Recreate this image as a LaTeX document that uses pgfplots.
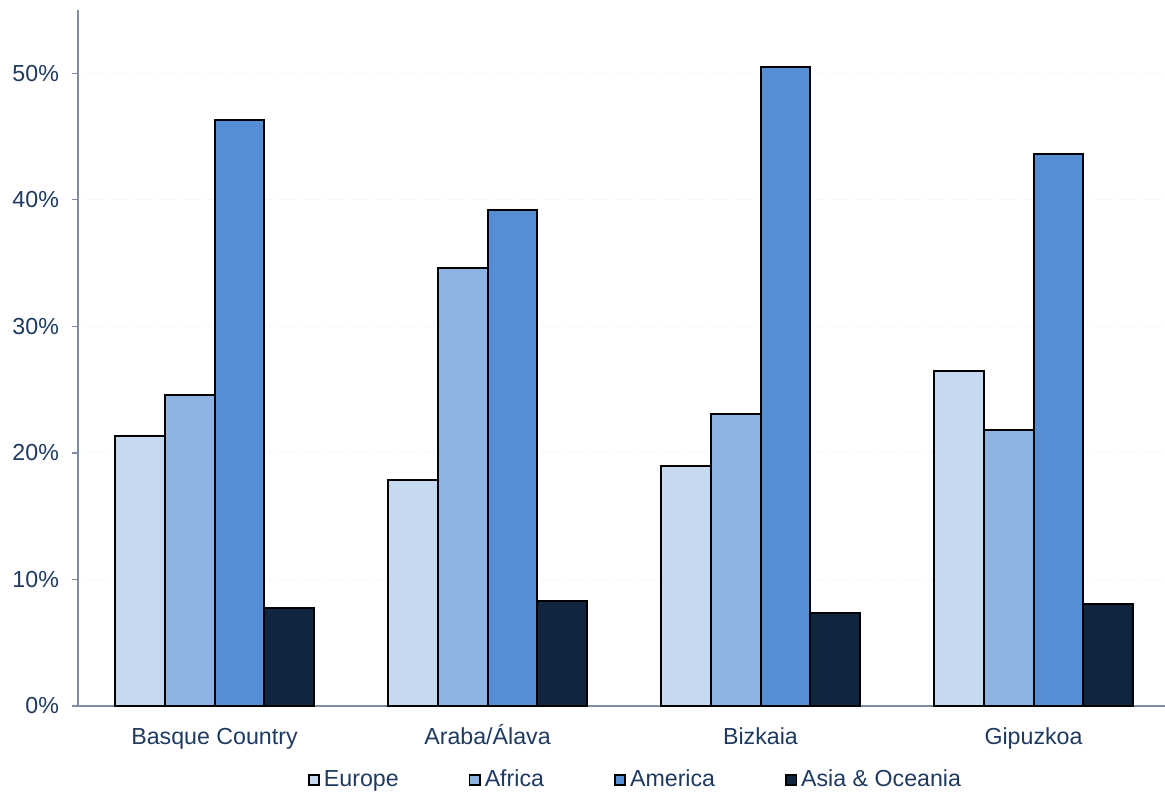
\documentclass[border=0pt]{standalone}
\usepackage{pgfplots}
\pgfplotsset{compat=1.18}
\usepackage{fontspec}
\setmainfont{Liberation Sans}

\definecolor{eur}{HTML}{C6D9F1}
\definecolor{afr}{HTML}{8EB4E3}
\definecolor{ame}{HTML}{558ED5}
\definecolor{asi}{HTML}{11253F}
\definecolor{txt}{HTML}{1F3A60}
\definecolor{axl}{HTML}{7D8CA3}
\definecolor{grd}{HTML}{E3E8EF}

\begin{document}
\begin{tikzpicture}[x=0.5pt,y=0.5pt]
% picture frame: 1165 x 792 px, axis origin at (78,706) px from top left
\useasboundingbox (-78,-86) rectangle (1087,706);
\begin{axis}[
    scale only axis,
    width=543.5pt, height=348pt,
    at={(0,0)}, anchor=south west,
    xmin=-0.5, xmax=3.4817,
    ymin=0, ymax=55,
    ybar=0pt, bar width=0.183,
    axis x line*=bottom, axis y line*=left,
    axis line style={axl, line width=0.7pt},
    font=\fontsize{11.6}{13}\selectfont,
    tick label style={txt},
    /pgf/number format/assume math mode=true,
    xtick={0,1,2,3},
    xticklabels={Basque Country, Araba/Álava, Bizkaia, Gipuzkoa},
    x tick style={draw=none},
    extra x ticks={-0.5,0.5,1.5,2.5},
    extra x tick labels={},
    extra x tick style={tick style={draw=axl, line width=0.6pt}, major tick length=3pt, tick align=outside},
    xticklabel style={yshift=-4pt, text height=8.6pt, text depth=2.6pt},
    ytick={0,10,20,30,40,50},
    yticklabel={\pgfmathprintnumber{\tick}\%},
    yticklabel style={xshift=-3pt},
    y tick style={draw=axl, line width=0.6pt},
    major tick length=3pt,
    tick align=outside,
    ymajorgrids,
    grid style={grd, dotted, line width=0.5pt},
    every axis plot/.append style={draw=black, line width=1pt},
    legend columns=4,
    legend style={draw=none, fill=none, at={(279.25pt,-37pt)}, anchor=center,
        font=\fontsize{11.6}{13}\selectfont, text=txt,
        /tikz/every even column/.append style={column sep=33pt}},
    legend image code/.code={\draw[#1, line width=0.8pt] (0pt,-2.6pt) rectangle (5.2pt,2.6pt);},
    legend cell align=left,
]
\addplot[fill=eur] coordinates {(0,21.3) (1,17.85) (2,19.0) (3,26.5)};
\addplot[fill=afr] coordinates {(0,24.6) (1,34.6) (2,23.1) (3,21.8)};
\addplot[fill=ame] coordinates {(0,46.3) (1,39.2) (2,50.5) (3,43.6)};
\addplot[fill=asi] coordinates {(0,7.75) (1,8.3) (2,7.35) (3,8.05)};
\legend{Europe, Africa, America, Asia \& Oceania}
\end{axis}
\end{tikzpicture}
\end{document}
